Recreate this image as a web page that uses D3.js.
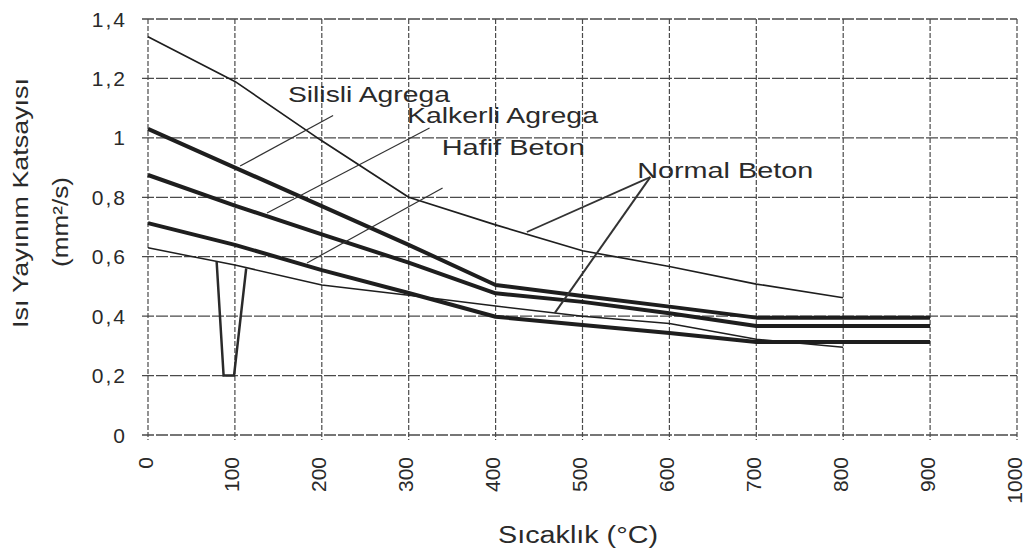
<!DOCTYPE html>
<html>
<head>
<meta charset="utf-8">
<script src="https://cdn.jsdelivr.net/npm/d3@7"></script>
<style>
  body { margin: 0; background: #fff; }
  svg text { font-family: "Liberation Sans", Arial, sans-serif; fill: #2a2a2a; }
</style>
</head>
<body>
<svg id="chart" width="1029" height="556"></svg>
<script>
// ---- data ----
const temps = [0, 100, 200, 300, 400, 500, 600, 700, 800, 900];

// thin lines: Normal Beton (upper and lower curve), end at 800
const normalUpper = [1.34, 1.19, 0.99, 0.80, 0.707, 0.62, 0.567, 0.508, 0.462];
const normalLower = [0.63, 0.572, 0.505, 0.47, 0.434, 0.40, 0.375, 0.322, 0.295];

// thick lines, run to 900
const silisli  = [1.03, 0.90, 0.77, 0.64, 0.505, 0.468, 0.432, 0.395, 0.395, 0.395];
const kalkerli = [0.875, 0.772, 0.675, 0.58, 0.477, 0.448, 0.41, 0.367, 0.367, 0.367];
const hafif    = [0.713, 0.64, 0.555, 0.478, 0.398, 0.37, 0.343, 0.313, 0.313, 0.313];

// the stray spike near 100 °C in the scan
const spikeT = [79, 87, 99, 113];
const spikeV = [0.583, 0.2, 0.2, 0.561];

const xTicks = [0, 100, 200, 300, 400, 500, 600, 700, 800, 900, 1000];
const yTicks = [0, 0.2, 0.4, 0.6, 0.8, 1, 1.2, 1.4];
const yTickLabels = ["0", "0,2", "0,4", "0,6", "0,8", "1", "1,2", "1,4"];

// labels and their leader lines, in data units
const labels = [
  {text: "Silisli Agrega",   t: 161, v: 1.122, len: 162},
  {text: "Kalkerli Agrega",  t: 298, v: 1.050, len: 191},
  {text: "Hafif Beton",      t: 338, v: 0.942, len: 143},
  {text: "Normal Beton",     t: 563, v: 0.865, len: 176}
];
const leaders = [
  {pts: [[106, 0.905], [213, 1.075]], w: 1.2},
  {pts: [[137, 0.747], [324, 1.033]], w: 1.2},
  {pts: [[183, 0.579], [339, 0.831]], w: 1.2},
  {pts: [[436, 0.683], [578, 0.868]], w: 1.8},
  {pts: [[578, 0.868], [468, 0.41]], w: 2}
];

// ---- setup ----
const svg = d3.select("#chart");
const x = d3.scaleLinear().domain([0, 1000]).range([148, 1017]);
const y = d3.scaleLinear().domain([0, 1.4]).range([435, 19]);

// ---- grid ----
const grid = svg.append("g").attr("class", "grid");

grid.selectAll(".hgrid")
  .data(yTicks)
  .enter()
  .append("line")
  .attr("x1", x(0) - 6)
  .attr("x2", x(1000))
  .attr("y1", d => y(d))
  .attr("y2", d => y(d))
  .attr("stroke", "#4a4a4a")
  .attr("stroke-width", 1.3)
  .attr("stroke-dasharray", "12,2");

grid.selectAll(".vgrid")
  .data(xTicks)
  .enter()
  .append("line")
  .attr("x1", d => x(d))
  .attr("x2", d => x(d))
  .attr("y1", y(1.4))
  .attr("y2", y(0) + 5)
  .attr("stroke", "#4a4a4a")
  .attr("stroke-width", 1.2)
  .attr("stroke-dasharray", "5,2");

// ---- axis labels ----
svg.selectAll(".ylab")
  .data(yTicks)
  .enter()
  .append("text")
  .attr("x", 127)
  .attr("y", d => y(d))
  .attr("dy", "0.36em")
  .attr("text-anchor", "end")
  .style("font-size", "21px")
  .style("letter-spacing", "2px")
  .text((d, i) => yTickLabels[i]);

svg.selectAll(".xlab")
  .data(xTicks)
  .enter()
  .append("text")
  .attr("transform", d => `translate(${x(d) - 3}, 457) rotate(-90)`)
  .attr("dy", "0.36em")
  .attr("text-anchor", "end")
  .style("font-size", "21px")
  .text(d => d);

svg.append("text")
  .attr("x", 578)
  .attr("y", 543)
  .attr("text-anchor", "middle")
  .attr("textLength", 160)
  .attr("lengthAdjust", "spacingAndGlyphs")
  .style("font-size", "23px")
  .text("Sıcaklık (°C)");

svg.append("text")
  .attr("transform", "translate(28, 203) rotate(-90)")
  .attr("text-anchor", "middle")
  .attr("textLength", 250)
  .attr("lengthAdjust", "spacingAndGlyphs")
  .style("font-size", "22px")
  .text("Isı Yayınım Katsayısı");

svg.append("text")
  .attr("transform", "translate(68, 222) rotate(-90)")
  .attr("text-anchor", "middle")
  .attr("textLength", 90)
  .attr("lengthAdjust", "spacingAndGlyphs")
  .style("font-size", "22px")
  .text("(mm²/s)");

// ---- series ----
const line = d3.line().x(d => x(d[0])).y(d => y(d[1]));
const series = [
  {vals: normalUpper, w: 1.7},
  {vals: normalLower, w: 1.5},
  {vals: silisli, w: 4},
  {vals: kalkerli, w: 4},
  {vals: hafif, w: 4}
];

svg.append("g")
  .selectAll("path")
  .data(series)
  .enter()
  .append("path")
  .attr("d", s => line(s.vals.map((v, i) => [temps[i], v])))
  .attr("fill", "none")
  .attr("stroke", "#1e1e1e")
  .attr("stroke-width", s => s.w)
  .attr("stroke-linejoin", "round");

svg.append("path")
  .attr("d", line(spikeT.map((t, i) => [t, spikeV[i]])))
  .attr("fill", "none")
  .attr("stroke", "#2a2a2a")
  .attr("stroke-width", 2.5);

// ---- annotations ----
svg.append("g")
  .selectAll("path")
  .data(leaders)
  .enter()
  .append("path")
  .attr("d", d => line(d.pts))
  .attr("fill", "none")
  .attr("stroke", "#333")
  .attr("stroke-width", d => d.w);

svg.selectAll(".ann")
  .data(labels)
  .enter()
  .append("text")
  .attr("x", d => x(d.t))
  .attr("y", d => y(d.v))
  .attr("textLength", d => d.len)
  .attr("lengthAdjust", "spacingAndGlyphs")
  .style("font-size", "22px")
  .text(d => d.text);
</script>
</body>
</html>
